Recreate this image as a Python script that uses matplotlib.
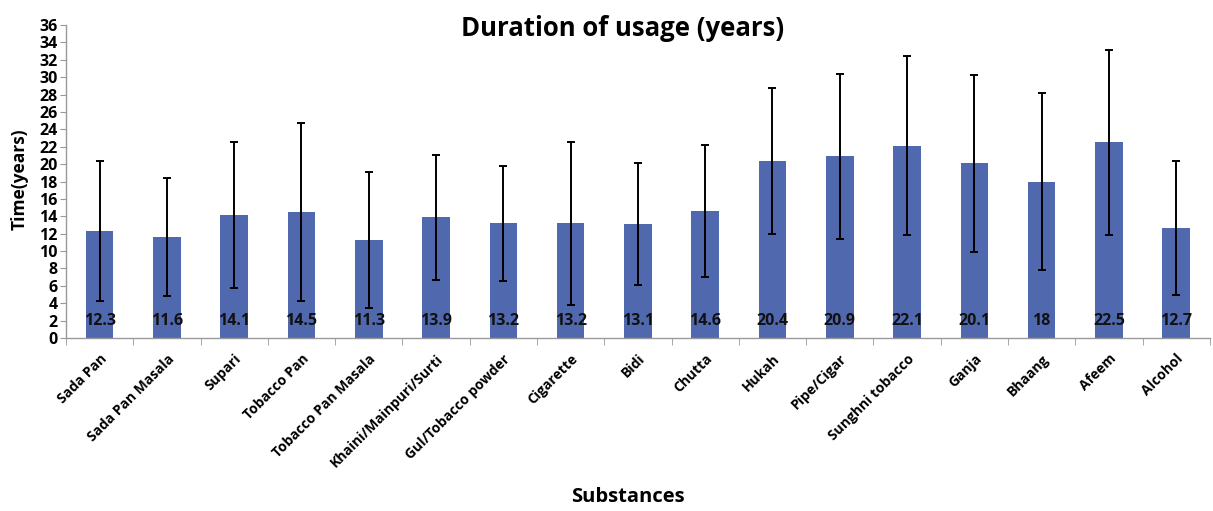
import matplotlib
matplotlib.use("Agg")
import matplotlib.pyplot as plt

categories = ["Sada Pan", "Sada Pan Masala", "Supari", "Tobacco Pan", "Tobacco Pan Masala",
              "Khaini/Mainpuri/Surti", "Gul/Tobacco powder", "Cigarette", "Bidi", "Chutta",
              "Hukah", "Pipe/Cigar", "Sunghni tobacco", "Ganja", "Bhaang", "Afeem", "Alcohol"]
means = [12.3, 11.6, 14.1, 14.5, 11.3, 13.9, 13.2, 13.2, 13.1, 14.6,
         20.4, 20.9, 22.1, 20.1, 18, 22.5, 12.7]
sds = [8.1, 6.8, 8.4, 10.2, 7.8, 7.2, 6.6, 9.4, 7.0, 7.6,
       8.4, 9.5, 10.3, 10.2, 10.2, 10.6, 7.7]
labels = ["12.3", "11.6", "14.1", "14.5", "11.3", "13.9", "13.2", "13.2", "13.1", "14.6",
          "20.4", "20.9", "22.1", "20.1", "18", "22.5", "12.7"]
yticks = list(range(0, 37, 2))

plt.rcParams['font.family'] = ['Open Sans', 'DejaVu Sans']

fig = plt.figure(figsize=(12.13, 5.11), dpi=100)
ax = fig.add_axes([0.0544, 0.3386, 0.943, 0.6124])

x = list(range(len(categories)))
ax.bar(x, means, width=0.41, color='#5068AE', zorder=2)
ax.errorbar(x, means, yerr=sds, fmt='none', ecolor='black', elinewidth=1.4,
            capsize=3, capthick=1.4, zorder=3)
for xi, lab in zip(x, labels):
    ax.text(xi, 2, lab, ha='center', va='center', fontsize=11.5, fontweight='bold',
            color='#111111', zorder=4)

ax.set_xlim(-0.5, len(categories) - 0.5)
ax.set_ylim(0, 36)
ax.set_yticks(yticks)
ax.set_yticklabels([str(t) for t in yticks], fontsize=11.5, fontweight='bold')

ax.set_xticks(x)
ax.set_xticklabels(categories, rotation=45, ha='right', rotation_mode='anchor',
                   fontsize=10, fontweight='bold')
ax.tick_params(axis='x', length=0, pad=10)
ax.set_xticks([i - 0.5 for i in range(len(categories) + 1)], minor=True)
ax.tick_params(axis='x', which='minor', length=5, color='#999999')
ax.tick_params(axis='y', length=4, color='#999999', pad=2)

for s in ['top', 'right']:
    ax.spines[s].set_visible(False)
for s in ['left', 'bottom']:
    ax.spines[s].set_color('#999999')
    ax.spines[s].set_linewidth(1)

fig.text(0.513, 0.945, "Duration of usage (years)", ha='center', va='center',
         fontsize=18.5, fontweight='bold')
fig.text(0.518, 0.027, "Substances", ha='center', va='center', fontsize=14.5, fontweight='bold')
fig.text(0.016, 0.65, "Time(years)", ha='center', va='center', rotation=90,
         fontsize=12.5, fontweight='bold')

fig.savefig("out.png", dpi=100)
